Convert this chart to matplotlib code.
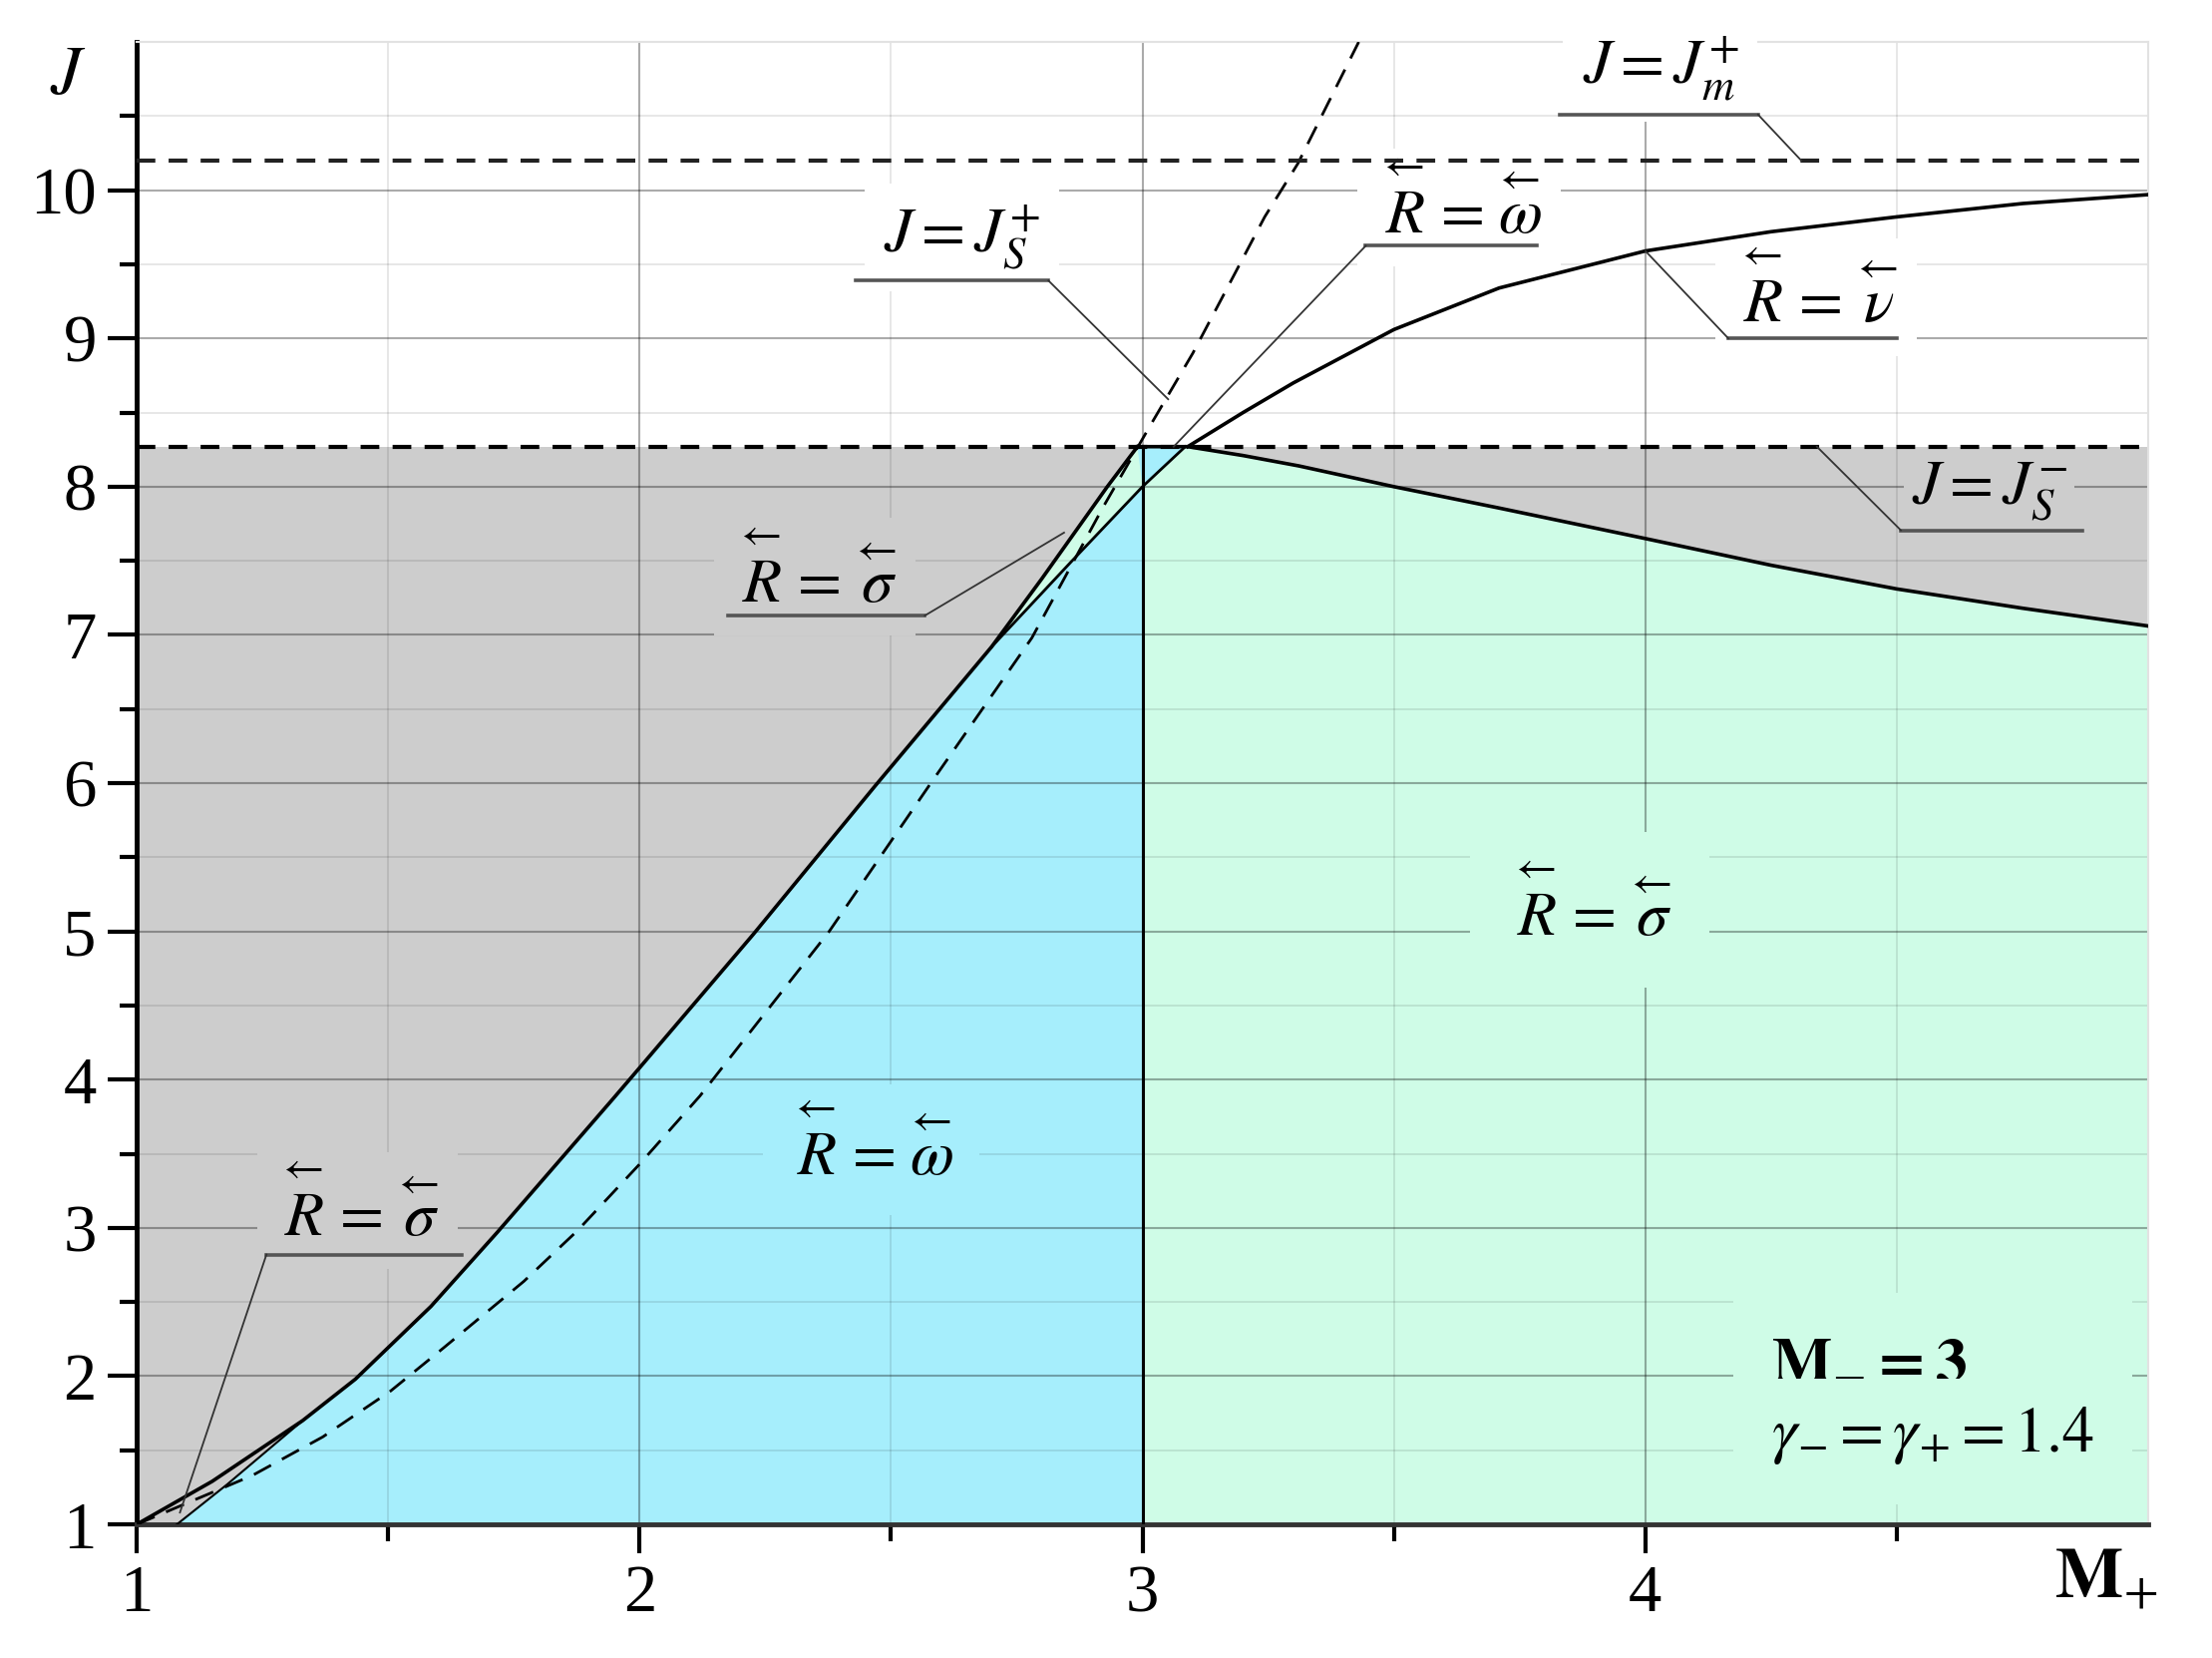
import numpy as np
import matplotlib.pyplot as plt

plt.rcParams['font.family'] = ['Liberation Serif', 'DejaVu Serif']
plt.rcParams['mathtext.fontset'] = 'stix'

# colours of the regions
GRAY = '#cdcdcd'
BLUE = '#a6eefc'
MINT = '#cffce7'

# levels of the two dashed horizontals
js_minus = 8.27
jm_plus = 10.2
m_split = 3.0

# upper solid curve (R = sigma boundary), M in [1, 3]
upper_m = [1.0, 1.15, 1.33, 1.435, 1.585, 1.717, 1.947, 2.0, 2.226, 2.468, 2.70, 2.80, 2.93, 2.99]
upper_j = [1.0, 1.29, 1.70, 1.98, 2.47, 2.97, 3.87, 4.08, 4.98, 5.98, 6.92, 7.38, 8.0, 8.27]
# short lower-left edge of the blue region
edge_m = [1.08, 1.18, 1.33]
edge_j = [1.0, 1.27, 1.70]
# lower edge of the thin sliver near M = 3
lower_m = [2.70, 2.86, 3.0, 3.085]
lower_j = [6.92, 7.5, 8.0, 8.27]
# descending curve for M > 3
desc_m = [2.99, 3.09, 3.2, 3.311, 3.5, 3.709, 4.0, 4.25, 4.5, 4.75, 5.0]
desc_j = [8.27, 8.27, 8.21, 8.14, 8.0, 7.856, 7.65, 7.47, 7.31, 7.18, 7.06]
# R = nu curve
nu_m = [3.09, 3.2, 3.3, 3.5, 3.709, 4.0, 4.25, 4.5, 4.75, 5.0]
nu_j = [8.27, 8.5, 8.7, 9.06, 9.34, 9.59, 9.72, 9.82, 9.91, 9.97]
# dashed curve J = J_S^+
dash_m = [1.0, 1.23, 1.37, 1.505, 1.61, 1.77, 1.876, 2.0, 2.12, 2.377, 2.575, 2.78, 2.923, 3.015, 3.10, 3.17, 3.243, 3.309, 3.43]
dash_j = [1.0, 1.33, 1.59, 1.90, 2.19, 2.64, 2.98, 3.43, 3.89, 5.0, 5.98, 6.98, 7.87, 8.41, 8.90, 9.35, 9.82, 10.18, 11.0]

SIG = r"$\overset{\leftarrow}{R}=\overset{\leftarrow}{\sigma}$"
OMG = r"$\overset{\leftarrow}{R}=\overset{\leftarrow}{\omega}$"
NU = r"$\overset{\leftarrow}{R}=\overset{\leftarrow}{\nu}$"

# labels: text, text position, underline (m0, m1, j), leader end, background, box pad
labels = [
    (r"$J=J_{m}^{+}$", 4.03, 10.72, (3.83, 4.224, 10.51), (4.31, jm_plus), 'white', 0.3),
    (OMG, 3.63, 9.71, (3.444, 3.785, 9.625), (3.062, js_minus), 'white', 0.3),
    (r"$J=J_{S}^{+}$", 2.64, 9.58, (2.43, 2.813, 9.39), (3.051, 8.59), 'white', 0.3),
    (NU, 4.34, 9.106, (4.165, 4.50, 9.0), (4.0, 9.59), 'white', 0.3),
    (r"$J=J_{S}^{-}$", 4.684, 7.88, (4.508, 4.869, 7.706), (4.341, js_minus), GRAY, 0.12),
    (SIG, 2.349, 7.22, (2.176, 2.567, 7.13), (2.844, 7.69), GRAY, 0.3),
    (SIG, 1.439, 2.945, (1.258, 1.647, 2.82), (1.086, 1.08), GRAY, 0.3),
    (OMG, 2.46, 3.355, None, None, BLUE, 0.4),
    (SIG, 3.89, 4.97, None, None, MINT, 0.6),
]

fig = plt.figure(figsize=(22.18, 16.62), dpi=100)
ax = fig.add_axes([0.0618, 0.0806, 0.9094, 0.8941])

# regions
ax.fill_between([1, 5], 1, js_minus, color=GRAY, lw=0, zorder=0.8)
blue_m = edge_m[:-1] + upper_m[2:] + [lower_m[-1], lower_m[-2], m_split]
blue_j = edge_j[:-1] + upper_j[2:] + [lower_j[-1], lower_j[-2], 1.0]
ax.fill(blue_m, blue_j, color=BLUE, lw=0, zorder=0.9)
mint_m = [m_split, lower_m[-2], lower_m[-1]] + desc_m[1:] + [5.0]
mint_j = [1.0, lower_j[-2], lower_j[-1]] + desc_j[1:] + [1.0]
ax.fill(mint_m, mint_j, color=MINT, lw=0, zorder=0.9)
k = upper_m.index(lower_m[0])
sliver_m = upper_m[k:] + lower_m[-2::-1]
sliver_j = upper_j[k:] + lower_j[-2::-1]
ax.fill(sliver_m, sliver_j, color=MINT, lw=0, zorder=0.95)

# curves
ax.plot(upper_m, upper_j, color='k', lw=2.6, zorder=4)
ax.plot(edge_m, edge_j, color='k', lw=1.5, zorder=4)
ax.plot(lower_m, lower_j, color='k', lw=2.0, zorder=4)
ax.plot(desc_m, desc_j, color='k', lw=2.6, zorder=4)
ax.plot(nu_m, nu_j, color='k', lw=2.6, zorder=4)
ax.plot([m_split, m_split], [1, js_minus], color='k', lw=2.2, zorder=4)
ax.plot(dash_m, dash_j, color='k', lw=2.0, dashes=(7, 4.5), zorder=4)
ax.axhline(js_minus, color='k', lw=3.0, dashes=(4.5, 3.2), zorder=4)
ax.axhline(jm_plus, color='#222222', lw=3.0, dashes=(4.5, 3.2), zorder=4)

# labels with underlines and leaders
for txt, tx, ty, under, tip, bg, pad in labels:
    ax.text(tx, ty, txt, fontsize=46, ha='center', va='baseline', zorder=3,
            bbox=dict(boxstyle='square,pad=%g' % pad, fc=bg, ec='none'))
    if under is not None:
        m0, m1, uj = under
        ax.plot([m0, m1], [uj, uj], color='#555555', lw=2.6, zorder=5)
        start = m0 if abs(m0 - tip[0]) < abs(m1 - tip[0]) else m1
        ax.plot([start, tip[0]], [uj, tip[1]], color='#333333', lw=1.3, zorder=5)

ax.text(4.25, 1.85, "$\\mathbf{M_{-}=3}$\n$\\gamma_{-}=\\gamma_{+}=1.4$", fontsize=46,
        ha='left', va='center', linespacing=1.35, zorder=3,
        bbox=dict(boxstyle='square,pad=0.6', fc=MINT, ec='none'))

# axes
ax.set_xlim(1, 5)
ax.set_ylim(1, 11)
ax.set_xticks([1, 2, 3, 4])
ax.set_xticks([1.5, 2.5, 3.5, 4.5], minor=True)
ax.set_yticks(np.arange(1, 11))
ax.set_yticks(np.arange(1.5, 11, 1), minor=True)
ax.tick_params(which='major', direction='out', length=21, width=3, labelsize=48, pad=8)
ax.tick_params(which='minor', direction='out', length=12, width=3)
ax.set_axisbelow('line')
ax.grid(which='major', color='k', alpha=0.33, lw=1.5)
ax.grid(which='minor', color='k', alpha=0.1, lw=1.3)
for s in ['top', 'right']:
    ax.spines[s].set_color('#e2e2e2')
    ax.spines[s].set_linewidth(1.5)
ax.spines['left'].set_linewidth(3.5)
ax.spines['bottom'].set_linewidth(3.5)
ax.spines['bottom'].set_color('#333333')

ax.text(-0.034, 0.976, "$J$", transform=ax.transAxes, fontsize=50, ha='center', va='center')
ax.text(0.979, -0.038, r"$\mathbf{M}_{+}$", transform=ax.transAxes, fontsize=52, ha='center', va='center')

fig.savefig('out.png', dpi=100, facecolor='white')
